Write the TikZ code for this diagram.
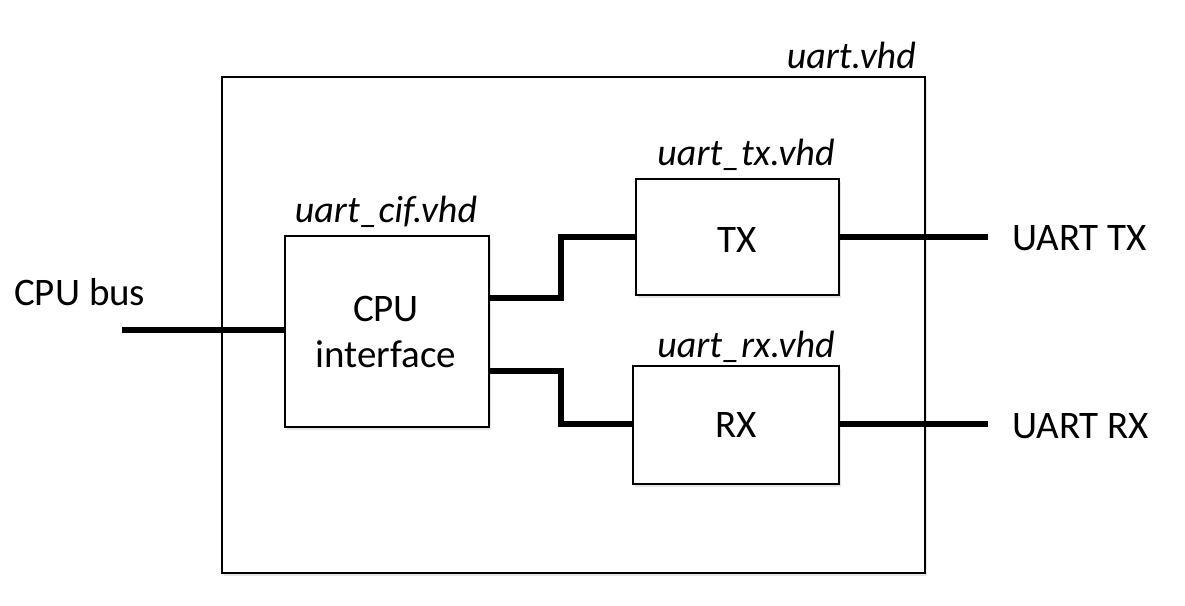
\documentclass[tikz,border=0pt]{standalone}
\usepackage{fontspec}
\setmainfont{Carlito}
\usetikzlibrary{shadows}
\begin{document}
\begin{tikzpicture}[x=1pt,y=-1pt,
  blk/.style={draw=black,line width=2pt,fill=white,
    drop shadow={opacity=0.2,shadow xshift=2pt,shadow yshift=-3pt}},
  wire/.style={line width=6pt,line cap=butt,line join=miter},
  lbl/.style={font=\fontsize{38}{40}\selectfont\itshape,inner sep=0pt},
  txt/.style={font=\fontsize{39}{46}\selectfont,inner sep=0pt,align=center}]
\useasboundingbox (0,0) rectangle (1185,605);
% outer box
\path[blk] (222,77) rectangle (925,573);
\node[lbl,anchor=base east] (top) at (916,68) {uart.vhd};
% cif
\node[blk,minimum width=204pt,minimum height=191pt,anchor=north west,inner sep=0pt] (cif) at (284,235) {};
\node[txt] (cift) at (386,332) {CPU\\interface};
\node[lbl,anchor=base] (cifl) at (386,222) {uart\_cif.vhd};
% tx
\node[blk,minimum width=203pt,minimum height=116pt,anchor=north west,inner sep=0pt] (tx) at (635,178) {};
\node[txt] (txt) at (737,240) {TX};
\node[lbl,anchor=base] (txl) at (746,165) {uart\_tx.vhd};
% rx
\node[blk,minimum width=206pt,minimum height=118pt,anchor=north west,inner sep=0pt] (rx) at (632,365) {};
\node[txt] (rxt) at (736,425) {RX};
\node[lbl,anchor=base] (rxl) at (746,357) {uart\_rx.vhd};
% external labels
\node[txt,anchor=west] (bus) at (14,292) {CPU bus};
\node[txt,anchor=west] (utx) at (1012,238) {UART TX};
\node[txt,anchor=west] (urx) at (1012,426) {UART RX};
\coordinate (busend) at (122,330);
\coordinate (txend) at (988,237);
\coordinate (rxend) at (988,424);
% wires
\draw[wire] (busend) -- (busend -| cif.west);
\draw[wire] (cif.east |- 0,298) -- (561,298) -- (561,237) -- (tx.west |- 0,237);
\draw[wire] (cif.east |- 0,371) -- (561,371) -- (561,424) -- (rx.west |- 0,424);
\draw[wire] (tx.east |- 0,237) -- (txend);
\draw[wire] (rx.east |- 0,424) -- (rxend);
\end{tikzpicture}
\end{document}
